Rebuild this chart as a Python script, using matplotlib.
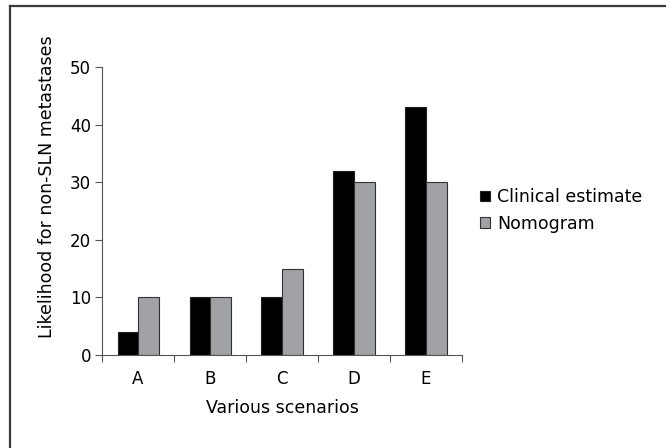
import numpy as np
import matplotlib
matplotlib.use("Agg")
import matplotlib.pyplot as plt
from matplotlib.lines import Line2D

scenarios = ["A", "B", "C", "D", "E"]
clinical = [4, 10, 10, 32, 43]
nomogram = [10, 10, 15, 30, 30]

plt.rcParams["font.family"] = "DejaVu Sans"
plt.rcParams["font.size"] = 12.5

fig = plt.figure(figsize=(6.66, 4.48), dpi=100)
ax = fig.add_axes([0.1532, 0.2076, 0.5405, 0.6428])

x = np.arange(len(scenarios))
w = 0.285
ax.bar(x - w / 2, clinical, w, color="black", edgecolor="#222222", linewidth=0.8,
       label="Clinical estimate")
ax.bar(x + w / 2, nomogram, w, color="#a0a2a6", edgecolor="#333333", linewidth=0.8,
       label="Nomogram")

ax.set_xlim(-0.5, 4.5)
ax.set_ylim(0, 50)
ax.set_yticks([0, 10, 20, 30, 40, 50])
ax.set_xticks(np.arange(-0.5, 5, 1))
ax.set_xticklabels([])
ax.set_xticks(x, minor=True)
ax.set_xticklabels(scenarios, minor=True)
ax.tick_params(axis="x", which="minor", length=0, pad=11, labelsize=12)
ax.tick_params(axis="x", which="major", length=5, direction="out", color="#555555")
ax.tick_params(axis="y", length=5, direction="out", color="#555555", pad=3, labelsize=12)

for side in ["top", "right"]:
    ax.spines[side].set_visible(False)
for side in ["left", "bottom"]:
    ax.spines[side].set_color("#555555")

ax.set_xlabel("Various scenarios", labelpad=8)
ax.set_ylabel("Likelihood for non-SLN metastases")
ax.yaxis.set_label_coords(-0.128, 0.583)

fig.legend(loc="upper left", bbox_to_anchor=(0.711, 0.596), frameon=False,
           handlelength=0.55, handleheight=0.55, handletextpad=0.4,
           labelspacing=0.5, borderaxespad=0)

# frame lines along the top and left edge
fig.add_artist(Line2D([0.0143, 1.0], [0.9877, 0.9877], color="#3a3a3a", linewidth=1.6,
                      transform=fig.transFigure))
fig.add_artist(Line2D([0.0143, 0.0143], [0.0, 0.9877], color="#3a3a3a", linewidth=1.6,
                      transform=fig.transFigure))

fig.savefig("out.png", dpi=100)
